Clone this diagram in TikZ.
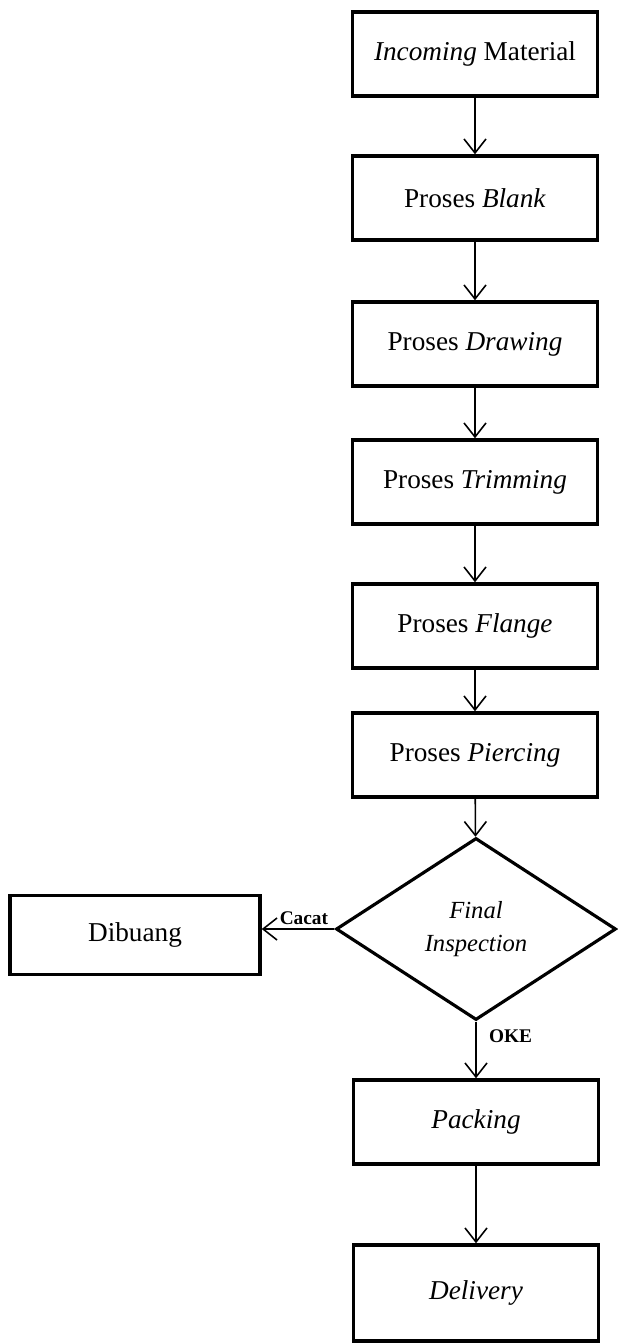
\documentclass[tikz,border=0pt]{standalone}
\usepackage{fontspec}
\setmainfont{Liberation Serif}
\usetikzlibrary{positioning,arrows.meta,shapes.geometric}

\begin{document}
\begin{tikzpicture}[
  proc/.style={draw, line width=2pt, minimum width=4.9cm, minimum height=1.68cm,
    align=center, font=\fontsize{15.5}{18}\selectfont, inner sep=2pt},
  dec/.style={draw, diamond, line width=1.8pt, minimum width=5.6cm, minimum height=3.64cm,
    align=center, font=\fontsize{14}{19}\selectfont\itshape, inner sep=0pt},
  lbl/.style={font=\fontsize{11}{13}\selectfont\bfseries, inner sep=2pt},
  >={Straight Barb[length=2.8mm,width=4.4mm]}, line width=0.9pt, color=black
]
\useasboundingbox (0,0) rectangle (12.34,-26.88);

\node[proc] (incoming) at (9.50,-1.08)  {\textit{Incoming} Material};
\node[proc] (blank)    at (9.50,-3.96)  {Proses \textit{Blank}};
\node[proc] (drawing)  at (9.50,-6.88)  {Proses \textit{Drawing}};
\node[proc] (trimming) at (9.50,-9.64)  {Proses \textit{Trimming}};
\node[proc] (flange)   at (9.50,-12.52) {Proses \textit{Flange}};
\node[proc] (piercing) at (9.50,-15.10) {Proses \textit{Piercing}};

\draw[->] (incoming) -- (blank);
\draw[->] (blank) -- (drawing);
\draw[->] (drawing) -- (trimming);
\draw[->] (trimming) -- (flange);
\draw[->] (flange) -- (piercing);

\node[dec] (inspect) at (9.52,-18.58) {Final\\Inspection};
\draw[->] (piercing) -- (inspect);

\node[proc, minimum width=5.0cm, minimum height=1.58cm] (dibuang) at (2.70,-18.70) {Dibuang};
\draw[->] (inspect.west) -- node[lbl, above, pos=0.42]{Cacat} (inspect.west -| dibuang.east);

\node[proc] (packing)  at (9.52,-22.44) {\textit{Packing}};
\node[proc, minimum height=1.92cm] (delivery) at (9.52,-25.86) {\textit{Delivery}};

\draw[->] (inspect) -- node[lbl, right, pos=0.25, xshift=5pt]{OKE} (packing);
\draw[->] (packing) -- (delivery);
\end{tikzpicture}
\end{document}
